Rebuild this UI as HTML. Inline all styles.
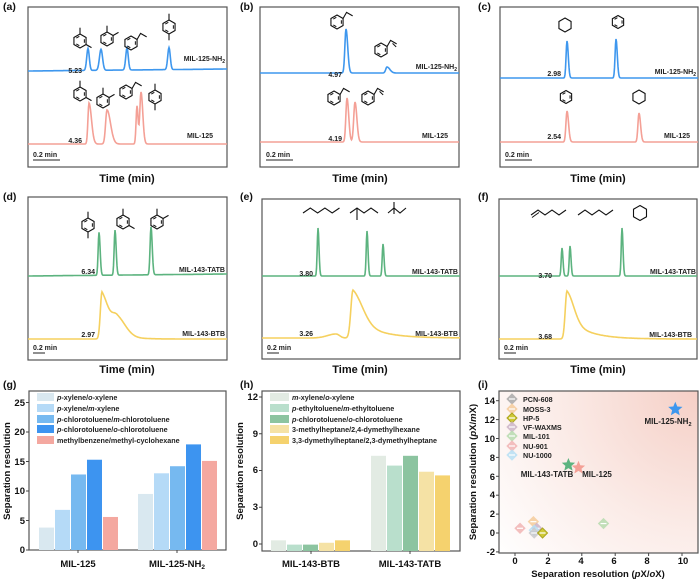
<!DOCTYPE html>
<html><head><meta charset="utf-8"><style>
html,body{margin:0;padding:0;background:#fff;}
svg{display:block;font-family:"Liberation Sans",Arial,sans-serif;font-weight:bold;}
</style></head><body>
<svg id="s" width="700" height="580" viewBox="0 0 700 580" xmlns="http://www.w3.org/2000/svg">
<defs>
<radialGradient id="rg" cx="698" cy="391" r="260" gradientUnits="userSpaceOnUse">
<stop offset="0" stop-color="#f5cfc6"/><stop offset="0.55" stop-color="#fbece8"/><stop offset="1" stop-color="#ffffff"/>
</radialGradient>
</defs>
<rect x="499" y="391" width="199" height="162" fill="url(#rg)"/>
<g fill="none" stroke="#555" stroke-width="1.2">
<rect x="28" y="7" width="199" height="160"/>
<rect x="260" y="7" width="199" height="160"/>
<rect x="500" y="7" width="198" height="160"/>
<rect x="28" y="197" width="199" height="163"/>
<rect x="262" y="199" width="198" height="160"/>
<rect x="499" y="199" width="198" height="160"/>
<rect x="29" y="391" width="197" height="159"/>
<rect x="262" y="391" width="198" height="160"/>
<rect x="499" y="391" width="199" height="162"/>
</g>
<g id="dyn"></g>
<g font-size="10.5" fill="#111">
<text x="3" y="10">(a)</text><text x="240" y="10">(b)</text><text x="478" y="10">(c)</text>
<text x="3" y="200">(d)</text><text x="240" y="200">(e)</text><text x="478" y="200">(f)</text>
<text x="3" y="388">(g)</text><text x="240" y="388">(h)</text><text x="478" y="388">(i)</text>
</g>
<g font-size="11" fill="#111" text-anchor="middle">
<text x="127" y="182">Time (min)</text><text x="360" y="182">Time (min)</text><text x="598" y="182">Time (min)</text>
<text x="127" y="373">Time (min)</text><text x="360" y="373">Time (min)</text><text x="598" y="373">Time (min)</text>
</g>
<g font-size="7" fill="#222">
<text x="82" y="73" text-anchor="end">5.23</text><text x="82" y="143" text-anchor="end">4.36</text>
<text x="342" y="77" text-anchor="end">4.97</text><text x="342" y="141" text-anchor="end">4.19</text>
<text x="561" y="76" text-anchor="end">2.98</text><text x="561" y="139" text-anchor="end">2.54</text>
<text x="95" y="274" text-anchor="end">6.34</text><text x="95" y="337" text-anchor="end">2.97</text>
<text x="313" y="276" text-anchor="end">3.80</text><text x="313" y="336" text-anchor="end">3.26</text>
<text x="552" y="278" text-anchor="end">3.70</text><text x="552" y="339" text-anchor="end">3.68</text>
<g text-anchor="end">
<text x="225" y="61">MIL-125-NH<tspan font-size="5" dy="2">2</tspan></text>
<text x="213" y="138">MIL-125</text>
<text x="457" y="69">MIL-125-NH<tspan font-size="5" dy="2">2</tspan></text>
<text x="448" y="138">MIL-125</text>
<text x="696" y="74">MIL-125-NH<tspan font-size="5" dy="2">2</tspan></text>
<text x="690" y="138">MIL-125</text>
<text x="225" y="272">MIL-143-TATB</text><text x="225" y="336">MIL-143-BTB</text>
<text x="458" y="274">MIL-143-TATB</text><text x="458" y="336">MIL-143-BTB</text>
<text x="696" y="274">MIL-143-TATB</text><text x="692" y="337">MIL-143-BTB</text>
</g>
<text x="33" y="157">0.2 min</text><text x="266" y="157">0.2 min</text><text x="505" y="157">0.2 min</text>
<text x="33" y="350">0.2 min</text><text x="267" y="350">0.2 min</text><text x="504" y="350">0.2 min</text>
</g>
<g stroke="#222" stroke-width="1">
<line x1="33" y1="160" x2="60" y2="160"/><line x1="266" y1="160" x2="293" y2="160"/><line x1="505" y1="160" x2="532" y2="160"/>
<line x1="33" y1="353" x2="45" y2="353"/><line x1="267" y1="353" x2="279" y2="353"/><line x1="504" y1="353" x2="516" y2="353"/>
</g>
<g font-size="9.5" fill="#111" text-anchor="end">
<text x="25" y="406">25</text><text x="25" y="435">20</text><text x="25" y="465">15</text><text x="25" y="494">10</text><text x="25" y="524">5</text><text x="25" y="553">0</text>
<text x="258" y="400">12</text><text x="258" y="437">9</text><text x="258" y="473">6</text><text x="258" y="510">3</text><text x="258" y="547">0</text>
<text x="495" y="404">14</text><text x="495" y="423">12</text><text x="495" y="442">10</text><text x="495" y="461">8</text><text x="495" y="480">6</text><text x="495" y="498">4</text><text x="495" y="517">2</text><text x="495" y="536">0</text><text x="495" y="555">-2</text>
</g>
<g font-size="9.5" fill="#111" text-anchor="middle">
<text x="78" y="567">MIL-125</text><text x="177" y="567">MIL-125-NH<tspan font-size="6.5" dy="2">2</tspan></text>
<text x="311" y="567">MIL-143-BTB</text><text x="410" y="567">MIL-143-TATB</text>
<text x="515" y="564">0</text><text x="548" y="564">2</text><text x="581" y="564">4</text><text x="614" y="564">6</text><text x="647" y="564">8</text><text x="683" y="564">10</text>
<text x="598" y="577">Separation resolution (<tspan font-style="italic">p</tspan>X/<tspan font-style="italic">o</tspan>X)</text>
<text transform="translate(10,471) rotate(-90)">Separation resolution</text>
<text transform="translate(243,471) rotate(-90)">Separation resolution</text>
<text transform="translate(476,472) rotate(-90)">Separation resolution (<tspan font-style="italic">p</tspan>X/<tspan font-style="italic">m</tspan>X)</text>
</g>
<g font-size="7.2" fill="#222">
<rect x="37" y="393" width="17" height="8" fill="#d9e8f0"/><text x="57" y="400"><tspan font-style="italic">p</tspan>-xylene/<tspan font-style="italic">o</tspan>-xylene</text>
<rect x="37" y="404" width="17" height="8" fill="#b5daf7"/><text x="57" y="411"><tspan font-style="italic">p</tspan>-xylene/<tspan font-style="italic">m</tspan>-xylene</text>
<rect x="37" y="415" width="17" height="8" fill="#76b9f0"/><text x="57" y="422"><tspan font-style="italic">p</tspan>-chlorotoluene/<tspan font-style="italic">m</tspan>-chlorotoluene</text>
<rect x="37" y="425" width="17" height="8" fill="#3d94f0"/><text x="57" y="432"><tspan font-style="italic">p</tspan>-chlorotoluene/<tspan font-style="italic">o</tspan>-chlorotoluene</text>
<rect x="37" y="436" width="17" height="8" fill="#f4a8a0"/><text x="57" y="443">methylbenzene/methyl-cyclohexane</text>
<rect x="270" y="393" width="19" height="8" fill="#e2ebe3"/><text x="292" y="400"><tspan font-style="italic">m</tspan>-xylene/<tspan font-style="italic">o</tspan>-xylene</text>
<rect x="270" y="404" width="19" height="8" fill="#b9dfcc"/><text x="292" y="411"><tspan font-style="italic">p</tspan>-ethyltoluene/<tspan font-style="italic">m</tspan>-ethyltoluene</text>
<rect x="270" y="415" width="19" height="8" fill="#8cc4a0"/><text x="292" y="422"><tspan font-style="italic">p</tspan>-chlorotoluene/<tspan font-style="italic">o</tspan>-chlorotoluene</text>
<rect x="270" y="425" width="19" height="8" fill="#f5e2a5"/><text x="292" y="432">3-methylheptane/2,4-dymethylhexane</text>
<rect x="270" y="436" width="19" height="8" fill="#f5d26e"/><text x="292" y="443">3,3-dymethylheptane/2,3-dymethylheptane</text>
<text x="523" y="402">PCN-608</text><text x="523" y="412">MOSS-3</text><text x="523" y="421">HP-5</text><text x="523" y="430">VF-WAXMS</text><text x="523" y="439">MIL-101</text><text x="523" y="449">NU-901</text><text x="523" y="458">NU-1000</text>
<text x="668" y="424" text-anchor="middle" font-size="8">MIL-125-NH<tspan font-size="5.5" dy="2">2</tspan></text>
<text x="547" y="477" text-anchor="middle" font-size="8">MIL-143-TATB</text>
<text x="597" y="477" text-anchor="middle" font-size="8">MIL-125</text>
</g>
</svg>
<script>
var NS="http://www.w3.org/2000/svg",D=document.getElementById("dyn");
function el(t,a){var e=document.createElementNS(NS,t);for(var k in a)e.setAttribute(k,a[k]);D.appendChild(e);return e;}
function trace(x0,x1,by,sl,pk,col){var d="";for(var x=x0;x<=x1;x+=0.5){var y=by-sl*(x-x0);for(var i=0;i<pk.length;i++){var p=pk[i],u=x-p[0];var wl=p[2],wr=p[3]||p[2];
if(u<0)y-=p[1]*Math.exp(-(u/wl)*(u/wl));else{ if(p[4]){y-=p[1]*(0.55*Math.exp(-(u/wr)*(u/wr))+0.45*Math.exp(-u/p[4]));}else y-=p[1]*Math.exp(-(u/wr)*(u/wr));}}
d+=(d?"L":"M")+x.toFixed(1)+","+y.toFixed(1);}
el("path",{d:d,fill:"none",stroke:col,"stroke-width":1.6});}
var B="#3e97ee",P="#f4a096",G="#5cb37f",Y="#f5d05e";
trace(28,227,71,0.01,[[88,22,1.8],[101,21,2.2],[127,22,1.8],[169,22,1.8]],B);
trace(28,227,144,0,[[89,41,1.5,3.5],[107,34,2,5],[137,38,1.3,1.5],[141,52,1.7,2.5]],P);
trace(260,459,73,0,[[346,44,1.6,2.4],[387,6,1.8,4]],B);
trace(260,459,142,0,[[347,44,1.6,2.4],[355,40,1.8,2.6]],P);
trace(500,698,78,0,[[567,37,1.3,1.8],[616,39,1.3,1.8]],B);
trace(500,698,142,0,[[567,31,1.5,2.2],[639,29,1.5,2.2]],P);
trace(28,227,276,0.01,[[99,43,1.2,1.6],[115,45,1.2,1.6],[151,48,1.3,1.7]],G);
trace(28,227,339,0,[[102,47,2.3,9,12],[117,17,7,12]],Y);
trace(262,460,276,0,[[318,48,1.1,1.4],[367,45,1.1,1.4],[383,32,1.1,1.4]],G);
trace(262,460,338,0,[[336,4,12,5],[353,48,3,14,22]],Y);
trace(499,697,276,0,[[562,28,1.1,1.4],[570,30,1.1,1.4],[622,48,1.1,1.4]],G);
trace(499,697,339,0,[[567,48,2.5,10,20]],Y);
function ring(cx,cy,r,arom,subs){var pts=[];for(var i=0;i<6;i++){var a=(-90+60*i)*Math.PI/180;pts.push([cx+r*Math.cos(a),cy+r*Math.sin(a)]);}
el("polygon",{points:pts.map(function(p){return p.join(",")}).join(" "),fill:"none",stroke:"#111","stroke-width":1.1});
if(arom){[[1,2],[3,4],[5,0]].forEach(function(q){var a=pts[q[0]],b=pts[q[1]];var ax=cx+(a[0]-cx)*0.72,ay=cy+(a[1]-cy)*0.72,bx=cx+(b[0]-cx)*0.72,by=cy+(b[1]-cy)*0.72;
el("line",{x1:ax+(bx-ax)*0.15,y1:ay+(by-ay)*0.15,x2:ax+(bx-ax)*0.85,y2:ay+(by-ay)*0.85,stroke:"#111","stroke-width":1});});}
(subs||[]).forEach(function(s){var p=pts[s[0]],a=(-90+60*s[0])*Math.PI/180,L=r*0.9,x2=p[0]+L*Math.cos(a),y2=p[1]+L*Math.sin(a);
el("line",{x1:p[0],y1:p[1],x2:x2,y2:y2,stroke:"#111","stroke-width":1.1});});}
function eth(cx,cy,r,vinyl){ring(cx,cy,r,true,[]);var a=-30*Math.PI/180,p=[cx+r*Math.cos(a),cy+r*Math.sin(a)];var q=[p[0]+r*0.5,p[1]-r*0.87],t=[q[0]+r*0.87,q[1]+r*0.5];
el("polyline",{points:p.join(",")+" "+q.join(",")+" "+t.join(","),fill:"none",stroke:"#111","stroke-width":1.1});
if(vinyl)el("line",{x1:q[0]+2,y1:q[1]+3,x2:t[0]-0.5,y2:t[1]+3,stroke:"#111","stroke-width":1});}
var r=7;
ring(80,41,r,true,[[0],[2]]);ring(107,39,r,true,[[0],[1]]);eth(131,43,r);ring(169,27,r,true,[[0],[3]]);
ring(80,94,r,true,[[0],[2]]);ring(103,101,r,true,[[0],[1]]);eth(126,92,r);ring(155,97,r,true,[[0],[3]]);
eth(337,22,r);eth(381,50,r,true);eth(334,98,r);eth(368,98,r,true);
ring(565,25,7,false,[]);ring(618,22,6.5,true,[]);ring(566,97,6.5,true,[]);ring(639,97,7,false,[]);
ring(88,225,7,true,[[0],[3]]);ring(123,222,7,true,[[0],[2]]);ring(157,222,7,true,[[0],[1]]);
ring(640,213,7.5,false,[]);
function zig(x,y,n,dx,dy){var pts=[];for(var i=0;i<n;i++)pts.push([x+i*dx,y+(i%2?-dy:0)]);el("polyline",{points:pts.map(function(p){return p.join(",")}).join(" "),fill:"none",stroke:"#111","stroke-width":1.1});return pts;}
zig(303,213,6,7.3,5);
var b=zig(350,213,5,7,5);el("line",{x1:b[1][0],y1:b[1][1],x2:b[1][0],y2:b[1][1]+12,stroke:"#111","stroke-width":1.1});
var c=zig(388,213,4,6,5);el("line",{x1:c[1][0],y1:c[1][1]-6,x2:c[1][0],y2:c[1][1]+6,stroke:"#111","stroke-width":1.1});
var h=zig(531,215,6,7,5);el("line",{x1:h[0][0]+1,y1:h[0][1]+2.5,x2:h[1][0]+1,y2:h[1][1]+2.5,stroke:"#111","stroke-width":1});
zig(578,215,6,7,5);
function bars(x0,w,vals,cols,yf,base){vals.forEach(function(v,i){var y=yf(v);el("rect",{x:x0+i*w,y:Math.min(y,base),width:w-1,height:Math.abs(base-y),fill:cols[i]});});}
var gc=["#d9e8f0","#b5daf7","#76b9f0","#3d94f0","#f4a8a0"],hc=["#e2ebe3","#b9dfcc","#8cc4a0","#f5e2a5","#f5d26e"];
var gy=function(v){return 550-v*5.9};bars(39,16,[3.8,6.8,12.8,15.3,5.6],gc,gy,550);bars(138,16,[9.5,13,14.2,17.9,15.1],gc,gy,550);
var hy=function(v){return 544-v*12.25};bars(271,16,[0.3,-0.05,-0.05,0.1,0.3],hc,hy,551);bars(371,16,[7.2,6.4,7.2,5.9,5.6],hc,hy,551);
function tk(x1,y1,x2,y2){el("line",{x1:x1,y1:y1,x2:x2,y2:y2,stroke:"#444","stroke-width":1});}
[0,5,10,15,20,25].forEach(function(v){tk(26,gy(v),29,gy(v));});[0,3,6,9,12].forEach(function(v){tk(259,hy(v),262,hy(v));});
tk(78,550,78,553);tk(177,550,177,553);tk(311,551,311,554);tk(410,551,410,554);
var ix=function(v){return 515+v*16.7},iy=function(v){return 533-v*9.45};
for(var v=-2;v<=14;v+=2)tk(496,iy(v),499,iy(v));for(var v=0;v<=10;v+=2)tk(ix(v),553,ix(v),556);
function star(cx,cy,R,col){var p=[];for(var i=0;i<10;i++){var a=(-90+36*i)*Math.PI/180,rr=i%2?R*0.45:R;p.push((cx+rr*Math.cos(a)).toFixed(1)+","+(cy+rr*Math.sin(a)).toFixed(1));}el("polygon",{points:p.join(" "),fill:col});}
function dia(cx,cy,col,sc){el("polygon",{points:[cx,cy-5,cx+5,cy,cx,cy+5,cx-5,cy].join(" "),fill:col,stroke:sc||col,"stroke-width":1,opacity:0.85});el("line",{x1:cx-3,y1:cy,x2:cx+3,y2:cy,stroke:"#fff","stroke-width":1.2});}
star(ix(9.6),iy(13.1),7.5,"#3e97ee");star(ix(3.2),iy(7.2),7,"#5cb37f");star(ix(3.8),iy(6.9),7,"#f4a096");
dia(ix(0.3),iy(0.5),"#f2b5b5");dia(ix(1.1),iy(1.2),"#f5cc9c");dia(ix(1.3),iy(0.5),"#cdb5c8");dia(ix(1.15),iy(0.3),"#b8e0f5");dia(ix(1.15),iy(0),"#c9c9cc");dia(ix(1.65),iy(0),"#c7c216","#a09a00");dia(ix(5.3),iy(1),"#b8dcb0");
dia(512,399,"#aaa");dia(512,409,"#f5cc9c");dia(512,418,"#c7c216","#a09a00");dia(512,427,"#cdb5c8");dia(512,436,"#b8dcb0");dia(512,446,"#f2b5b5");dia(512,455,"#b8e0f5");
</script>
</body></html>
